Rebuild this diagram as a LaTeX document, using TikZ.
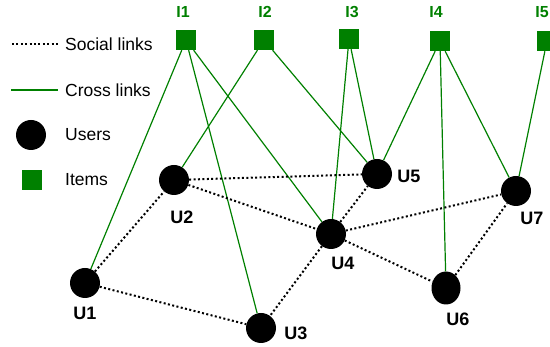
\documentclass[tikz,border=0pt]{standalone}
\usepackage{fontspec}
\setmainfont{Liberation Sans}
\usetikzlibrary{shapes.geometric}
\definecolor{itemgreen}{RGB}{0,128,0}
\begin{document}
\begin{tikzpicture}[x=1pt,y=-1pt,
  user/.style={circle,fill=black,inner sep=0pt,minimum size=30pt},
  item/.style={rectangle,fill=itemgreen,inner sep=0pt,minimum size=20pt},
  ulabel/.style={font=\fontsize{18}{18}\selectfont\bfseries,inner sep=0pt},
  ilabel/.style={font=\fontsize{16}{16}\selectfont\bfseries,text=itemgreen,inner sep=0pt},
  legtext/.style={font=\fontsize{17.5}{17.5}\selectfont,anchor=west,inner sep=0pt},
  social/.style={line width=2pt,dash pattern=on 2pt off 2.4pt},
  cross/.style={itemgreen,line width=1.2pt}]
\useasboundingbox (0,0) rectangle (550,347);
% legend
\coordinate (ls1) at (12,44); \coordinate (ls2) at (58,44);
\coordinate (lc1) at (11,90); \coordinate (lc2) at (58,90);
\draw[social] (ls1) -- (ls2);
\draw[cross] (lc1) -- (lc2);
\node[legtext] (tsoc) at (65,44) {Social links};
\node[legtext] (tcro) at (65,90) {Cross links};
\node[user] (luser) at (31,135) {};
\node[legtext] (tuse) at (65,135) {Users};
\node[item] (litem) at (32,180) {};
\node[legtext] (tite) at (65,180) {Items};
% items
\node[item] (I1) at (186,40) {};
\node[item] (I2) at (264,40) {};
\node[item] (I3) at (349,39) {};
\node[item] (I4) at (440,41) {};
\node[item] (I5) at (547,41) {};
\node[ilabel] (lI1) at (183,12) {I1};
\node[ilabel] (lI2) at (265,12) {I2};
\node[ilabel] (lI3) at (352,12) {I3};
\node[ilabel] (lI4) at (436,12) {I4};
\node[ilabel] (lI5) at (542,12) {I5};
% users
\node[user] (U1) at (85,283) {};
\node[user] (U2) at (174,180) {};
\node[user] (U3) at (261,328) {};
\node[user] (U4) at (331,234) {};
\node[user] (U5) at (377,174) {};
\node[ellipse,fill=black,inner sep=0pt,minimum width=29pt,minimum height=33pt] (U6) at (446,288) {};
\node[user] (U7) at (516,191) {};
\node[ulabel] (lU1) at (85,313) {U1};
\node[ulabel] (lU2) at (182,217) {U2};
\node[ulabel] (lU3) at (296,333) {U3};
\node[ulabel] (lU4) at (343,263) {U4};
\node[ulabel] (lU5) at (409,176) {U5};
\node[ulabel] (lU6) at (458,319) {U6};
\node[ulabel] (lU7) at (532,218) {U7};
% cross links
\draw[cross] (I1) -- (U1);
\draw[cross] (I1) -- (U3);
\draw[cross] (I1) -- (U4);
\draw[cross] (I2) -- (U2);
\draw[cross] (I2) -- (U5);
\draw[cross] (I3) -- (U4);
\draw[cross] (I3) -- (U5);
\draw[cross] (I4) -- (U5);
\draw[cross] (I4) -- (U6);
\draw[cross] (I4) -- (U7);
\draw[cross] (I5) -- (U7);
% social links
\draw[social] (U1) -- (U2);
\draw[social] (U1) -- (U3);
\draw[social] (U2) -- (U5);
\draw[social] (U2) -- (U4);
\draw[social] (U4) -- (U5);
\draw[social] (U4) -- (U3);
\draw[social] (U4) -- (U7);
\draw[social] (U4) -- (U6);
\draw[social] (U6) -- (U7);
\end{tikzpicture}
\end{document}
